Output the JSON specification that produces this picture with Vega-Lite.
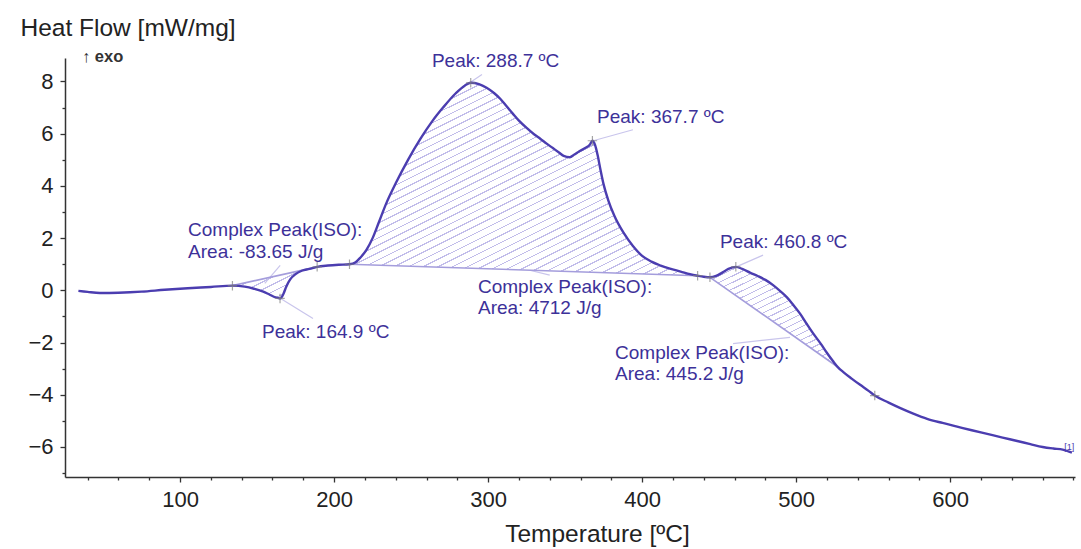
{
  "$schema": "https://vega.github.io/schema/vega-lite/v6.json",
  "width": 1010,
  "height": 419,
  "autosize": {"type": "none"},
  "padding": {"left": 65, "top": 58, "right": 6, "bottom": 72},
  "background": "#ffffff",
  "config": {
    "view": {"stroke": null},
    "font": "Liberation Sans",
    "axis": {
      "domainColor": "#333333",
      "tickColor": "#333333",
      "domainWidth": 1.5,
      "tickWidth": 1.3,
      "labelFont": "Liberation Sans",
      "titleFont": "Liberation Sans",
      "labelFontSize": 22,
      "titleFontSize": 24.5,
      "titleFontWeight": "normal",
      "labelColor": "#222222",
      "titleColor": "#222222",
      "grid": false
    }
  },
  "datasets": {
    "curve": [
      {"T": 34, "v": -0.02},
      {"T": 40, "v": -0.06},
      {"T": 48, "v": -0.1},
      {"T": 60, "v": -0.09},
      {"T": 75, "v": -0.05},
      {"T": 90, "v": 0.02},
      {"T": 105, "v": 0.08},
      {"T": 120, "v": 0.13},
      {"T": 134, "v": 0.18, "b": 0.18, "g": 1},
      {"T": 142, "v": 0.14, "b": 0.285, "g": 1},
      {"T": 148, "v": 0.06, "b": 0.363, "g": 1},
      {"T": 154, "v": -0.05, "b": 0.442, "g": 1},
      {"T": 158, "v": -0.16, "b": 0.494, "g": 1},
      {"T": 162, "v": -0.27, "b": 0.547, "g": 1},
      {"T": 165, "v": -0.31, "b": 0.586, "g": 1},
      {"T": 167, "v": -0.15, "b": 0.612, "g": 1},
      {"T": 169, "v": 0.15, "b": 0.638, "g": 1},
      {"T": 171.5, "v": 0.42, "b": 0.671, "g": 1},
      {"T": 175, "v": 0.62, "b": 0.717, "g": 1},
      {"T": 179, "v": 0.75, "b": 0.769, "g": 1},
      {"T": 184, "v": 0.82, "b": 0.835, "g": 1},
      {"T": 189, "v": 0.9, "b": 0.9, "g": 1},
      {"T": 196, "v": 0.95},
      {"T": 203, "v": 0.98},
      {"T": 210, "v": 1.0, "b": 1.0, "g": 2},
      {"T": 214, "v": 1.08, "b": 0.992, "g": 2},
      {"T": 217, "v": 1.25, "b": 0.986, "g": 2},
      {"T": 221, "v": 1.55, "b": 0.979, "g": 2},
      {"T": 225, "v": 2.0, "b": 0.971, "g": 2},
      {"T": 229, "v": 2.6, "b": 0.963, "g": 2},
      {"T": 234, "v": 3.35, "b": 0.953, "g": 2},
      {"T": 240, "v": 4.1, "b": 0.942, "g": 2},
      {"T": 248, "v": 5.0, "b": 0.926, "g": 2},
      {"T": 256, "v": 5.8, "b": 0.91, "g": 2},
      {"T": 264, "v": 6.5, "b": 0.895, "g": 2},
      {"T": 271, "v": 7.02, "b": 0.881, "g": 2},
      {"T": 279, "v": 7.55, "b": 0.866, "g": 2},
      {"T": 285, "v": 7.85, "b": 0.854, "g": 2},
      {"T": 288.7, "v": 7.95, "b": 0.847, "g": 2},
      {"T": 294, "v": 7.9, "b": 0.837, "g": 2},
      {"T": 299, "v": 7.76, "b": 0.827, "g": 2},
      {"T": 304, "v": 7.55, "b": 0.817, "g": 2},
      {"T": 308, "v": 7.33, "b": 0.809, "g": 2},
      {"T": 312, "v": 7.05, "b": 0.801, "g": 2},
      {"T": 316, "v": 6.77, "b": 0.794, "g": 2},
      {"T": 320, "v": 6.5, "b": 0.786, "g": 2},
      {"T": 325, "v": 6.22, "b": 0.776, "g": 2},
      {"T": 330, "v": 5.97, "b": 0.766, "g": 2},
      {"T": 334, "v": 5.8, "b": 0.759, "g": 2},
      {"T": 338, "v": 5.62, "b": 0.751, "g": 2},
      {"T": 342, "v": 5.45, "b": 0.743, "g": 2},
      {"T": 346, "v": 5.28, "b": 0.735, "g": 2},
      {"T": 349, "v": 5.15, "b": 0.729, "g": 2},
      {"T": 353, "v": 5.1, "b": 0.721, "g": 2},
      {"T": 356, "v": 5.2, "b": 0.716, "g": 2},
      {"T": 359, "v": 5.32, "b": 0.71, "g": 2},
      {"T": 363, "v": 5.45, "b": 0.702, "g": 2},
      {"T": 366, "v": 5.58, "b": 0.696, "g": 2},
      {"T": 367.7, "v": 5.73, "b": 0.693, "g": 2},
      {"T": 369.5, "v": 5.55, "b": 0.69, "g": 2},
      {"T": 371, "v": 5.2, "b": 0.687, "g": 2},
      {"T": 373, "v": 4.6, "b": 0.683, "g": 2},
      {"T": 375, "v": 4.05, "b": 0.679, "g": 2},
      {"T": 378, "v": 3.45, "b": 0.673, "g": 2},
      {"T": 382, "v": 2.85, "b": 0.665, "g": 2},
      {"T": 388, "v": 2.2, "b": 0.653, "g": 2},
      {"T": 394, "v": 1.7, "b": 0.642, "g": 2},
      {"T": 400, "v": 1.32, "b": 0.63, "g": 2},
      {"T": 406, "v": 1.1, "b": 0.618, "g": 2},
      {"T": 412, "v": 0.95, "b": 0.607, "g": 2},
      {"T": 418, "v": 0.83, "b": 0.595, "g": 2},
      {"T": 425, "v": 0.72, "b": 0.581, "g": 2},
      {"T": 431, "v": 0.62, "b": 0.57, "g": 2},
      {"T": 436, "v": 0.56, "b": 0.56, "g": 2},
      {"T": 440, "v": 0.52},
      {"T": 444, "v": 0.5, "b": 0.5, "g": 3},
      {"T": 448, "v": 0.55, "b": 0.334, "g": 3},
      {"T": 452, "v": 0.68, "b": 0.169, "g": 3},
      {"T": 456, "v": 0.82, "b": 0.003, "g": 3},
      {"T": 460.8, "v": 0.9, "b": -0.196, "g": 3},
      {"T": 465, "v": 0.82, "b": -0.37, "g": 3},
      {"T": 470, "v": 0.68, "b": -0.577, "g": 3},
      {"T": 475, "v": 0.55, "b": -0.784, "g": 3},
      {"T": 480, "v": 0.4, "b": -0.991, "g": 3},
      {"T": 485, "v": 0.2, "b": -1.198, "g": 3},
      {"T": 490, "v": -0.05, "b": -1.405, "g": 3},
      {"T": 494, "v": -0.27, "b": -1.571, "g": 3},
      {"T": 498, "v": -0.55, "b": -1.736, "g": 3},
      {"T": 502.6, "v": -0.9, "b": -1.927, "g": 3},
      {"T": 507, "v": -1.3, "b": -2.109, "g": 3},
      {"T": 511, "v": -1.65, "b": -2.275, "g": 3},
      {"T": 516, "v": -2.05, "b": -2.482, "g": 3},
      {"T": 520, "v": -2.4, "b": -2.647, "g": 3},
      {"T": 524, "v": -2.72, "b": -2.813, "g": 3},
      {"T": 527, "v": -2.94, "b": -2.937, "g": 3},
      {"T": 531, "v": -3.15},
      {"T": 536, "v": -3.38},
      {"T": 541.5, "v": -3.62},
      {"T": 547, "v": -3.85},
      {"T": 551, "v": -4.03},
      {"T": 560, "v": -4.3},
      {"T": 568, "v": -4.52},
      {"T": 576, "v": -4.72},
      {"T": 585, "v": -4.92},
      {"T": 595, "v": -5.08},
      {"T": 604.5, "v": -5.22},
      {"T": 614, "v": -5.36},
      {"T": 624, "v": -5.5},
      {"T": 634, "v": -5.64},
      {"T": 643.5, "v": -5.77},
      {"T": 652, "v": -5.89},
      {"T": 660, "v": -6.0},
      {"T": 667, "v": -6.06},
      {"T": 673, "v": -6.1},
      {"T": 679, "v": -6.22}
    ],
    "rules": [
      {"T": 134, "v": 0.18, "T2": 189, "v2": 0.9, "k": "base"},
      {"T": 210, "v": 1.0, "T2": 436, "v2": 0.56, "k": "base"},
      {"T": 444, "v": 0.5, "T2": 527, "v2": -2.937, "k": "base"},
      {"T": 288.3, "v": 7.96, "T2": 296, "v2": 8.27, "k": "lead"},
      {"T": 368.2, "v": 5.73, "T2": 394, "v2": 6.15, "k": "lead"},
      {"T": 165, "v": -0.3, "T2": 186.3, "v2": -1.08, "k": "lead"},
      {"T": 155, "v": 0.27, "T2": 165, "v2": 0.96, "k": "lead"},
      {"T": 327, "v": 0.77, "T2": 340, "v2": 0.58, "k": "lead"},
      {"T": 460.3, "v": 0.88, "T2": 478.5, "v2": 1.35, "k": "lead"},
      {"T": 459, "v": -2.04, "T2": 496, "v2": -1.8, "k": "lead"}
    ],
    "marks": [
      {"T": 134, "v": 0.18},
      {"T": 164.9, "v": -0.31},
      {"T": 189, "v": 0.9},
      {"T": 210, "v": 1.0},
      {"T": 288.7, "v": 7.95},
      {"T": 367.7, "v": 5.73},
      {"T": 436, "v": 0.56},
      {"T": 444, "v": 0.5},
      {"T": 460.8, "v": 0.9},
      {"T": 551, "v": -4.03}
    ],
    "labels": [
      {"T": 105.2, "v": 2.31, "label": "Complex Peak(ISO):"},
      {"T": 105.2, "v": 1.47, "label": "Area: -83.65 J/g"},
      {"T": 153.2, "v": -1.6, "label": "Peak: 164.9 ºC"},
      {"T": 263.5, "v": 8.79, "label": "Peak: 288.7 ºC"},
      {"T": 370.7, "v": 6.64, "label": "Peak: 367.7 ºC"},
      {"T": 293.4, "v": 0.13, "label": "Complex Peak(ISO):"},
      {"T": 293.4, "v": -0.68, "label": "Area: 4712 J/g"},
      {"T": 450.5, "v": 1.85, "label": "Peak: 460.8 ºC"},
      {"T": 382.4, "v": -2.4, "label": "Complex Peak(ISO):"},
      {"T": 382.4, "v": -3.21, "label": "Area: 445.2 J/g"}
    ],
    "notes": [
      {"T": 36.3, "v": 8.94, "label": "↑ exo"}
    ],
    "endlabel": [
      {"T": 674, "v": -6.0, "label": "[1]"}
    ]
  },
  "encoding": {
    "x": {
      "field": "T",
      "type": "quantitative",
      "scale": {"domain": [25.3, 681], "nice": false, "zero": false},
      "axis": {
        "title": "Temperature [ºC]",
        "values": [40, 60, 80, 100, 120, 140, 160, 180, 200, 220, 240, 260, 280, 300, 320, 340, 360, 380, 400, 420, 440, 460, 480, 500, 520, 540, 560, 580, 600, 620, 640, 660, 680],
        "labelExpr": "datum.value % 100 === 0 ? datum.label : ''",
        "tickSize": {"condition": {"test": "datum.value % 100 === 0", "value": 5}, "value": 3},
        "labelOverlap": false,
        "labelFlush": false,
        "labelPadding": 7,
        "titleX": 532,
        "titleY": 57,
        "titleAlign": "center",
        "titleBaseline": "middle"
      }
    },
    "y": {
      "field": "v",
      "type": "quantitative",
      "scale": {"domain": [-7.15, 8.9], "nice": false, "zero": false},
      "axis": {
        "title": "Heat Flow [mW/mg]",
        "values": [-7, -6, -5, -4, -3, -2, -1, 0, 1, 2, 3, 4, 5, 6, 7, 8],
        "labelExpr": "datum.value % 2 === 0 ? datum.label : ''",
        "tickSize": {"condition": {"test": "datum.value % 2 === 0", "value": 5}, "value": 3},
        "labelOverlap": false,
        "labelFlush": false,
        "labelPadding": 7,
        "titleAngle": 0,
        "titleAlign": "left",
        "titleBaseline": "middle",
        "titleX": -45,
        "titleY": -30
      }
    }
  },
  "layer": [
    {
      "data": {"name": "curve"},
      "transform": [{"filter": "datum.g === 1"}],
      "mark": {
        "type": "area",
        "interpolate": "monotone",
        "fill": {
          "gradient": "linear", "x1": 0, "y1": 0, "x2": 1.122, "y2": 0.836,
          "stops": [
            {"offset": 0, "color": "#c2bdea"}, {"offset": 0.017, "color": "#c2bdea"}, {"offset": 0.017, "color": "transparent"}, {"offset": 0.1, "color": "transparent"},
            {"offset": 0.1, "color": "#c2bdea"}, {"offset": 0.117, "color": "#c2bdea"}, {"offset": 0.117, "color": "transparent"}, {"offset": 0.2, "color": "transparent"},
            {"offset": 0.2, "color": "#c2bdea"}, {"offset": 0.217, "color": "#c2bdea"}, {"offset": 0.217, "color": "transparent"}, {"offset": 0.3, "color": "transparent"},
            {"offset": 0.3, "color": "#c2bdea"}, {"offset": 0.317, "color": "#c2bdea"}, {"offset": 0.317, "color": "transparent"}, {"offset": 0.4, "color": "transparent"},
            {"offset": 0.4, "color": "#c2bdea"}, {"offset": 0.417, "color": "#c2bdea"}, {"offset": 0.417, "color": "transparent"}, {"offset": 0.5, "color": "transparent"},
            {"offset": 0.5, "color": "#c2bdea"}, {"offset": 0.517, "color": "#c2bdea"}, {"offset": 0.517, "color": "transparent"}, {"offset": 0.6, "color": "transparent"},
            {"offset": 0.6, "color": "#c2bdea"}, {"offset": 0.617, "color": "#c2bdea"}, {"offset": 0.617, "color": "transparent"}, {"offset": 0.7, "color": "transparent"},
            {"offset": 0.7, "color": "#c2bdea"}, {"offset": 0.717, "color": "#c2bdea"}, {"offset": 0.717, "color": "transparent"}, {"offset": 0.8, "color": "transparent"},
            {"offset": 0.8, "color": "#c2bdea"}, {"offset": 0.817, "color": "#c2bdea"}, {"offset": 0.817, "color": "transparent"}, {"offset": 0.9, "color": "transparent"},
            {"offset": 0.9, "color": "#c2bdea"}, {"offset": 0.917, "color": "#c2bdea"}, {"offset": 0.917, "color": "transparent"}, {"offset": 1, "color": "transparent"}
          ]
        }
      },
      "encoding": {"y2": {"field": "b"}}
    },
    {
      "data": {"name": "curve"},
      "transform": [{"filter": "datum.g === 2"}],
      "mark": {
        "type": "area",
        "interpolate": "monotone",
        "fill": {
          "gradient": "linear", "x1": 0, "y1": 0, "x2": 0.946, "y2": 1.049,
          "stops": [
            {"offset": 0, "color": "#c2bdea"}, {"offset": 0.0035, "color": "#c2bdea"}, {"offset": 0.0035, "color": "transparent"}, {"offset": 0.02, "color": "transparent"},
            {"offset": 0.02, "color": "#c2bdea"}, {"offset": 0.0235, "color": "#c2bdea"}, {"offset": 0.0235, "color": "transparent"}, {"offset": 0.04, "color": "transparent"},
            {"offset": 0.04, "color": "#c2bdea"}, {"offset": 0.0435, "color": "#c2bdea"}, {"offset": 0.0435, "color": "transparent"}, {"offset": 0.06, "color": "transparent"},
            {"offset": 0.06, "color": "#c2bdea"}, {"offset": 0.0635, "color": "#c2bdea"}, {"offset": 0.0635, "color": "transparent"}, {"offset": 0.08, "color": "transparent"},
            {"offset": 0.08, "color": "#c2bdea"}, {"offset": 0.0835, "color": "#c2bdea"}, {"offset": 0.0835, "color": "transparent"}, {"offset": 0.1, "color": "transparent"},
            {"offset": 0.1, "color": "#c2bdea"}, {"offset": 0.1035, "color": "#c2bdea"}, {"offset": 0.1035, "color": "transparent"}, {"offset": 0.12, "color": "transparent"},
            {"offset": 0.12, "color": "#c2bdea"}, {"offset": 0.1235, "color": "#c2bdea"}, {"offset": 0.1235, "color": "transparent"}, {"offset": 0.14, "color": "transparent"},
            {"offset": 0.14, "color": "#c2bdea"}, {"offset": 0.1435, "color": "#c2bdea"}, {"offset": 0.1435, "color": "transparent"}, {"offset": 0.16, "color": "transparent"},
            {"offset": 0.16, "color": "#c2bdea"}, {"offset": 0.1635, "color": "#c2bdea"}, {"offset": 0.1635, "color": "transparent"}, {"offset": 0.18, "color": "transparent"},
            {"offset": 0.18, "color": "#c2bdea"}, {"offset": 0.1835, "color": "#c2bdea"}, {"offset": 0.1835, "color": "transparent"}, {"offset": 0.2, "color": "transparent"},
            {"offset": 0.2, "color": "#c2bdea"}, {"offset": 0.2035, "color": "#c2bdea"}, {"offset": 0.2035, "color": "transparent"}, {"offset": 0.22, "color": "transparent"},
            {"offset": 0.22, "color": "#c2bdea"}, {"offset": 0.2235, "color": "#c2bdea"}, {"offset": 0.2235, "color": "transparent"}, {"offset": 0.24, "color": "transparent"},
            {"offset": 0.24, "color": "#c2bdea"}, {"offset": 0.2435, "color": "#c2bdea"}, {"offset": 0.2435, "color": "transparent"}, {"offset": 0.26, "color": "transparent"},
            {"offset": 0.26, "color": "#c2bdea"}, {"offset": 0.2635, "color": "#c2bdea"}, {"offset": 0.2635, "color": "transparent"}, {"offset": 0.28, "color": "transparent"},
            {"offset": 0.28, "color": "#c2bdea"}, {"offset": 0.2835, "color": "#c2bdea"}, {"offset": 0.2835, "color": "transparent"}, {"offset": 0.3, "color": "transparent"},
            {"offset": 0.3, "color": "#c2bdea"}, {"offset": 0.3035, "color": "#c2bdea"}, {"offset": 0.3035, "color": "transparent"}, {"offset": 0.32, "color": "transparent"},
            {"offset": 0.32, "color": "#c2bdea"}, {"offset": 0.3235, "color": "#c2bdea"}, {"offset": 0.3235, "color": "transparent"}, {"offset": 0.34, "color": "transparent"},
            {"offset": 0.34, "color": "#c2bdea"}, {"offset": 0.3435, "color": "#c2bdea"}, {"offset": 0.3435, "color": "transparent"}, {"offset": 0.36, "color": "transparent"},
            {"offset": 0.36, "color": "#c2bdea"}, {"offset": 0.3635, "color": "#c2bdea"}, {"offset": 0.3635, "color": "transparent"}, {"offset": 0.38, "color": "transparent"},
            {"offset": 0.38, "color": "#c2bdea"}, {"offset": 0.3835, "color": "#c2bdea"}, {"offset": 0.3835, "color": "transparent"}, {"offset": 0.4, "color": "transparent"},
            {"offset": 0.4, "color": "#c2bdea"}, {"offset": 0.4035, "color": "#c2bdea"}, {"offset": 0.4035, "color": "transparent"}, {"offset": 0.42, "color": "transparent"},
            {"offset": 0.42, "color": "#c2bdea"}, {"offset": 0.4235, "color": "#c2bdea"}, {"offset": 0.4235, "color": "transparent"}, {"offset": 0.44, "color": "transparent"},
            {"offset": 0.44, "color": "#c2bdea"}, {"offset": 0.4435, "color": "#c2bdea"}, {"offset": 0.4435, "color": "transparent"}, {"offset": 0.46, "color": "transparent"},
            {"offset": 0.46, "color": "#c2bdea"}, {"offset": 0.4635, "color": "#c2bdea"}, {"offset": 0.4635, "color": "transparent"}, {"offset": 0.48, "color": "transparent"},
            {"offset": 0.48, "color": "#c2bdea"}, {"offset": 0.4835, "color": "#c2bdea"}, {"offset": 0.4835, "color": "transparent"}, {"offset": 0.5, "color": "transparent"},
            {"offset": 0.5, "color": "#c2bdea"}, {"offset": 0.5035, "color": "#c2bdea"}, {"offset": 0.5035, "color": "transparent"}, {"offset": 0.52, "color": "transparent"},
            {"offset": 0.52, "color": "#c2bdea"}, {"offset": 0.5235, "color": "#c2bdea"}, {"offset": 0.5235, "color": "transparent"}, {"offset": 0.54, "color": "transparent"},
            {"offset": 0.54, "color": "#c2bdea"}, {"offset": 0.5435, "color": "#c2bdea"}, {"offset": 0.5435, "color": "transparent"}, {"offset": 0.56, "color": "transparent"},
            {"offset": 0.56, "color": "#c2bdea"}, {"offset": 0.5635, "color": "#c2bdea"}, {"offset": 0.5635, "color": "transparent"}, {"offset": 0.58, "color": "transparent"},
            {"offset": 0.58, "color": "#c2bdea"}, {"offset": 0.5835, "color": "#c2bdea"}, {"offset": 0.5835, "color": "transparent"}, {"offset": 0.6, "color": "transparent"},
            {"offset": 0.6, "color": "#c2bdea"}, {"offset": 0.6035, "color": "#c2bdea"}, {"offset": 0.6035, "color": "transparent"}, {"offset": 0.62, "color": "transparent"},
            {"offset": 0.62, "color": "#c2bdea"}, {"offset": 0.6235, "color": "#c2bdea"}, {"offset": 0.6235, "color": "transparent"}, {"offset": 0.64, "color": "transparent"},
            {"offset": 0.64, "color": "#c2bdea"}, {"offset": 0.6435, "color": "#c2bdea"}, {"offset": 0.6435, "color": "transparent"}, {"offset": 0.66, "color": "transparent"},
            {"offset": 0.66, "color": "#c2bdea"}, {"offset": 0.6635, "color": "#c2bdea"}, {"offset": 0.6635, "color": "transparent"}, {"offset": 0.68, "color": "transparent"},
            {"offset": 0.68, "color": "#c2bdea"}, {"offset": 0.6835, "color": "#c2bdea"}, {"offset": 0.6835, "color": "transparent"}, {"offset": 0.7, "color": "transparent"},
            {"offset": 0.7, "color": "#c2bdea"}, {"offset": 0.7035, "color": "#c2bdea"}, {"offset": 0.7035, "color": "transparent"}, {"offset": 0.72, "color": "transparent"},
            {"offset": 0.72, "color": "#c2bdea"}, {"offset": 0.7235, "color": "#c2bdea"}, {"offset": 0.7235, "color": "transparent"}, {"offset": 0.74, "color": "transparent"},
            {"offset": 0.74, "color": "#c2bdea"}, {"offset": 0.7435, "color": "#c2bdea"}, {"offset": 0.7435, "color": "transparent"}, {"offset": 0.76, "color": "transparent"},
            {"offset": 0.76, "color": "#c2bdea"}, {"offset": 0.7635, "color": "#c2bdea"}, {"offset": 0.7635, "color": "transparent"}, {"offset": 0.78, "color": "transparent"},
            {"offset": 0.78, "color": "#c2bdea"}, {"offset": 0.7835, "color": "#c2bdea"}, {"offset": 0.7835, "color": "transparent"}, {"offset": 0.8, "color": "transparent"},
            {"offset": 0.8, "color": "#c2bdea"}, {"offset": 0.8035, "color": "#c2bdea"}, {"offset": 0.8035, "color": "transparent"}, {"offset": 0.82, "color": "transparent"},
            {"offset": 0.82, "color": "#c2bdea"}, {"offset": 0.8235, "color": "#c2bdea"}, {"offset": 0.8235, "color": "transparent"}, {"offset": 0.84, "color": "transparent"},
            {"offset": 0.84, "color": "#c2bdea"}, {"offset": 0.8435, "color": "#c2bdea"}, {"offset": 0.8435, "color": "transparent"}, {"offset": 0.86, "color": "transparent"},
            {"offset": 0.86, "color": "#c2bdea"}, {"offset": 0.8635, "color": "#c2bdea"}, {"offset": 0.8635, "color": "transparent"}, {"offset": 0.88, "color": "transparent"},
            {"offset": 0.88, "color": "#c2bdea"}, {"offset": 0.8835, "color": "#c2bdea"}, {"offset": 0.8835, "color": "transparent"}, {"offset": 0.9, "color": "transparent"},
            {"offset": 0.9, "color": "#c2bdea"}, {"offset": 0.9035, "color": "#c2bdea"}, {"offset": 0.9035, "color": "transparent"}, {"offset": 0.92, "color": "transparent"},
            {"offset": 0.92, "color": "#c2bdea"}, {"offset": 0.9235, "color": "#c2bdea"}, {"offset": 0.9235, "color": "transparent"}, {"offset": 0.94, "color": "transparent"},
            {"offset": 0.94, "color": "#c2bdea"}, {"offset": 0.9435, "color": "#c2bdea"}, {"offset": 0.9435, "color": "transparent"}, {"offset": 0.96, "color": "transparent"},
            {"offset": 0.96, "color": "#c2bdea"}, {"offset": 0.9635, "color": "#c2bdea"}, {"offset": 0.9635, "color": "transparent"}, {"offset": 0.98, "color": "transparent"},
            {"offset": 0.98, "color": "#c2bdea"}, {"offset": 0.9835, "color": "#c2bdea"}, {"offset": 0.9835, "color": "transparent"}, {"offset": 1, "color": "transparent"}
          ]
        }
      },
      "encoding": {"y2": {"field": "b"}}
    },
    {
      "data": {"name": "curve"},
      "transform": [{"filter": "datum.g === 3"}],
      "mark": {
        "type": "area",
        "interpolate": "monotone",
        "fill": {
          "gradient": "linear", "x1": 0, "y1": 0, "x2": 0.726, "y2": 1.17,
          "stops": [
            {"offset": 0, "color": "#c2bdea"}, {"offset": 0.007, "color": "#c2bdea"}, {"offset": 0.007, "color": "transparent"}, {"offset": 0.04, "color": "transparent"},
            {"offset": 0.04, "color": "#c2bdea"}, {"offset": 0.047, "color": "#c2bdea"}, {"offset": 0.047, "color": "transparent"}, {"offset": 0.08, "color": "transparent"},
            {"offset": 0.08, "color": "#c2bdea"}, {"offset": 0.087, "color": "#c2bdea"}, {"offset": 0.087, "color": "transparent"}, {"offset": 0.12, "color": "transparent"},
            {"offset": 0.12, "color": "#c2bdea"}, {"offset": 0.127, "color": "#c2bdea"}, {"offset": 0.127, "color": "transparent"}, {"offset": 0.16, "color": "transparent"},
            {"offset": 0.16, "color": "#c2bdea"}, {"offset": 0.167, "color": "#c2bdea"}, {"offset": 0.167, "color": "transparent"}, {"offset": 0.2, "color": "transparent"},
            {"offset": 0.2, "color": "#c2bdea"}, {"offset": 0.207, "color": "#c2bdea"}, {"offset": 0.207, "color": "transparent"}, {"offset": 0.24, "color": "transparent"},
            {"offset": 0.24, "color": "#c2bdea"}, {"offset": 0.247, "color": "#c2bdea"}, {"offset": 0.247, "color": "transparent"}, {"offset": 0.28, "color": "transparent"},
            {"offset": 0.28, "color": "#c2bdea"}, {"offset": 0.287, "color": "#c2bdea"}, {"offset": 0.287, "color": "transparent"}, {"offset": 0.32, "color": "transparent"},
            {"offset": 0.32, "color": "#c2bdea"}, {"offset": 0.327, "color": "#c2bdea"}, {"offset": 0.327, "color": "transparent"}, {"offset": 0.36, "color": "transparent"},
            {"offset": 0.36, "color": "#c2bdea"}, {"offset": 0.367, "color": "#c2bdea"}, {"offset": 0.367, "color": "transparent"}, {"offset": 0.4, "color": "transparent"},
            {"offset": 0.4, "color": "#c2bdea"}, {"offset": 0.407, "color": "#c2bdea"}, {"offset": 0.407, "color": "transparent"}, {"offset": 0.44, "color": "transparent"},
            {"offset": 0.44, "color": "#c2bdea"}, {"offset": 0.447, "color": "#c2bdea"}, {"offset": 0.447, "color": "transparent"}, {"offset": 0.48, "color": "transparent"},
            {"offset": 0.48, "color": "#c2bdea"}, {"offset": 0.487, "color": "#c2bdea"}, {"offset": 0.487, "color": "transparent"}, {"offset": 0.52, "color": "transparent"},
            {"offset": 0.52, "color": "#c2bdea"}, {"offset": 0.527, "color": "#c2bdea"}, {"offset": 0.527, "color": "transparent"}, {"offset": 0.56, "color": "transparent"},
            {"offset": 0.56, "color": "#c2bdea"}, {"offset": 0.567, "color": "#c2bdea"}, {"offset": 0.567, "color": "transparent"}, {"offset": 0.6, "color": "transparent"},
            {"offset": 0.6, "color": "#c2bdea"}, {"offset": 0.607, "color": "#c2bdea"}, {"offset": 0.607, "color": "transparent"}, {"offset": 0.64, "color": "transparent"},
            {"offset": 0.64, "color": "#c2bdea"}, {"offset": 0.647, "color": "#c2bdea"}, {"offset": 0.647, "color": "transparent"}, {"offset": 0.68, "color": "transparent"},
            {"offset": 0.68, "color": "#c2bdea"}, {"offset": 0.687, "color": "#c2bdea"}, {"offset": 0.687, "color": "transparent"}, {"offset": 0.72, "color": "transparent"},
            {"offset": 0.72, "color": "#c2bdea"}, {"offset": 0.727, "color": "#c2bdea"}, {"offset": 0.727, "color": "transparent"}, {"offset": 0.76, "color": "transparent"},
            {"offset": 0.76, "color": "#c2bdea"}, {"offset": 0.767, "color": "#c2bdea"}, {"offset": 0.767, "color": "transparent"}, {"offset": 0.8, "color": "transparent"},
            {"offset": 0.8, "color": "#c2bdea"}, {"offset": 0.807, "color": "#c2bdea"}, {"offset": 0.807, "color": "transparent"}, {"offset": 0.84, "color": "transparent"},
            {"offset": 0.84, "color": "#c2bdea"}, {"offset": 0.847, "color": "#c2bdea"}, {"offset": 0.847, "color": "transparent"}, {"offset": 0.88, "color": "transparent"},
            {"offset": 0.88, "color": "#c2bdea"}, {"offset": 0.887, "color": "#c2bdea"}, {"offset": 0.887, "color": "transparent"}, {"offset": 0.92, "color": "transparent"},
            {"offset": 0.92, "color": "#c2bdea"}, {"offset": 0.927, "color": "#c2bdea"}, {"offset": 0.927, "color": "transparent"}, {"offset": 0.96, "color": "transparent"},
            {"offset": 0.96, "color": "#c2bdea"}, {"offset": 0.967, "color": "#c2bdea"}, {"offset": 0.967, "color": "transparent"}, {"offset": 1, "color": "transparent"}
          ]
        }
      },
      "encoding": {"y2": {"field": "b"}}
    },
    {
      "data": {"name": "rules"},
      "transform": [{"filter": "datum.k === 'lead'"}],
      "mark": {"type": "rule", "color": "#c9c5ec", "strokeWidth": 1.2},
      "encoding": {
        "x2": {"field": "T2"},
        "y2": {"field": "v2"}
      }
    },
    {
      "data": {"name": "rules"},
      "transform": [{"filter": "datum.k === 'base'"}],
      "mark": {"type": "rule", "color": "#a49ddc", "strokeWidth": 1.6},
      "encoding": {
        "x2": {"field": "T2"},
        "y2": {"field": "v2"}
      }
    },
    {
      "data": {"name": "curve"},
      "mark": {"type": "line", "interpolate": "monotone", "color": "#4b3db0", "strokeWidth": 2.4},
      "encoding": {}
    },
    {
      "data": {"name": "marks"},
      "mark": {"type": "point", "shape": "M-1,0L1,0M0,-1L0,1", "color": "#808080", "strokeWidth": 1.2, "size": 90, "filled": false},
      "encoding": {}
    },
    {
      "data": {"name": "labels"},
      "mark": {"type": "text", "align": "left", "baseline": "middle", "fontSize": 19, "color": "#3d3199", "font": "Liberation Sans"},
      "encoding": {"text": {"field": "label"}}
    },
    {
      "data": {"name": "notes"},
      "mark": {"type": "text", "align": "left", "baseline": "middle", "fontSize": 16.5, "fontWeight": "bold", "color": "#333333", "font": "Liberation Sans"},
      "encoding": {"text": {"field": "label"}}
    },
    {
      "data": {"name": "endlabel"},
      "mark": {"type": "text", "align": "left", "baseline": "middle", "fontSize": 9, "color": "#4b3db0", "font": "Liberation Sans"},
      "encoding": {"text": {"field": "label"}}
    }
  ]
}
